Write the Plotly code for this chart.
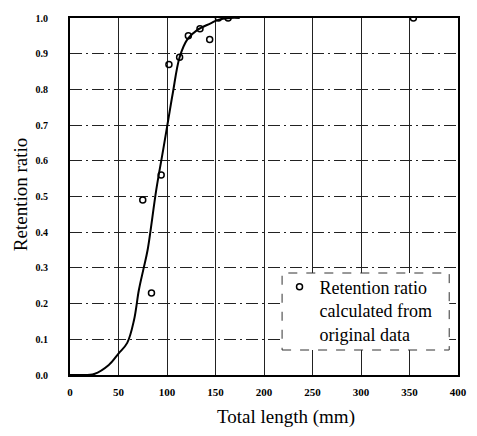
import plotly.graph_objects as go

# Observed retention ratios by total length
length_mm = [75, 84, 94, 102, 113, 122, 134, 144, 153, 163, 354]
retention = [0.49, 0.23, 0.56, 0.87, 0.89, 0.95, 0.97, 0.94, 1.0, 1.0, 1.0]

# Fitted selection curve
curve_x = [0, 10, 25, 40, 50, 59, 66, 71, 76, 80, 89, 96, 101, 106, 113, 121, 131, 145, 152, 165, 175]
curve_y = [0.0, 0.0, 0.003, 0.028, 0.06, 0.09, 0.154, 0.238, 0.30, 0.35, 0.52, 0.63, 0.71, 0.79, 0.89,
           0.94, 0.966, 0.985, 0.994, 1.0, 1.0]

x_ticks = [0, 50, 100, 150, 200, 250, 300, 350, 400]
y_ticks = [0.0, 0.1, 0.2, 0.3, 0.4, 0.5, 0.6, 0.7, 0.8, 0.9, 1.0]

SERIF = "Liberation Serif, Times New Roman, serif"

fig = go.Figure()

fig.add_trace(go.Scatter(
    x=curve_x, y=curve_y, mode="lines",
    line=dict(color="black", width=2, shape="spline", smoothing=1.0),
    showlegend=False, hoverinfo="skip",
))

fig.add_trace(go.Scatter(
    x=length_mm, y=retention, mode="markers",
    marker=dict(symbol="circle-open", size=6, color="black", line=dict(width=1.5, color="black")),
    name="Retention ratio<br>calculated from<br>original data",
))

fig.update_layout(
    width=477, height=436,
    margin=dict(l=70, r=10, t=18, b=61),
    paper_bgcolor="white", plot_bgcolor="white",
    font=dict(family=SERIF, color="black"),
    showlegend=True,
    legend=dict(
        x=0.54, y=0.298, xanchor="left", yanchor="top",
        bgcolor="rgba(0,0,0,0)", borderwidth=0,
        font=dict(family=SERIF, size=18, color="black"),
        itemsizing="trace", tracegroupgap=0, valign="top",
    ),
)

fig.update_xaxes(
    range=[0, 400], tickvals=x_ticks, ticktext=[str(v) for v in x_ticks],
    showgrid=True, gridcolor="#222222", gridwidth=1.3,
    showline=True, linecolor="black", linewidth=2, mirror=True,
    ticks="outside", ticklen=0, ticklabelstandoff=6,
    tickfont=dict(family=SERIF, size=11, color="black", weight="bold"),
    zeroline=False,
)
fig.update_yaxes(
    range=[0, 1.0], tickvals=y_ticks, ticktext=[f"{v:.1f}" for v in y_ticks],
    showgrid=True, gridcolor="#222222", gridwidth=1, griddash="12px,4px,2px,4px",
    showline=True, linecolor="black", linewidth=2, mirror=True,
    ticks="outside", ticklen=0, ticklabelstandoff=18,
    tickfont=dict(family=SERIF, size=10, color="black", weight="bold"),
    zeroline=False,
)

# Dashed frame around the legend
fig.add_shape(
    type="rect", xref="paper", yref="paper",
    x0=(287 - 70) / 397, x1=(458 - 70) / 397,
    y0=(375 - 350) / 357, y1=(375 - 273) / 357,
    line=dict(color="#333333", width=1, dash="dash"),
    fillcolor="white", layer="above",
)

# Axis titles
fig.add_annotation(
    text="Total length (mm)", xref="paper", yref="paper",
    x=(291 - 70) / 397, y=(375 - 417) / 357, xanchor="center", yanchor="middle",
    showarrow=False, font=dict(family=SERIF, size=19, color="black"),
)
fig.add_annotation(
    text="Retention ratio", xref="paper", yref="paper",
    x=(19 - 70) / 397, y=(375 - 195) / 357, xanchor="center", yanchor="middle",
    textangle=-90, showarrow=False, font=dict(family=SERIF, size=19, color="black"),
)

fig.write_html("out.html")
